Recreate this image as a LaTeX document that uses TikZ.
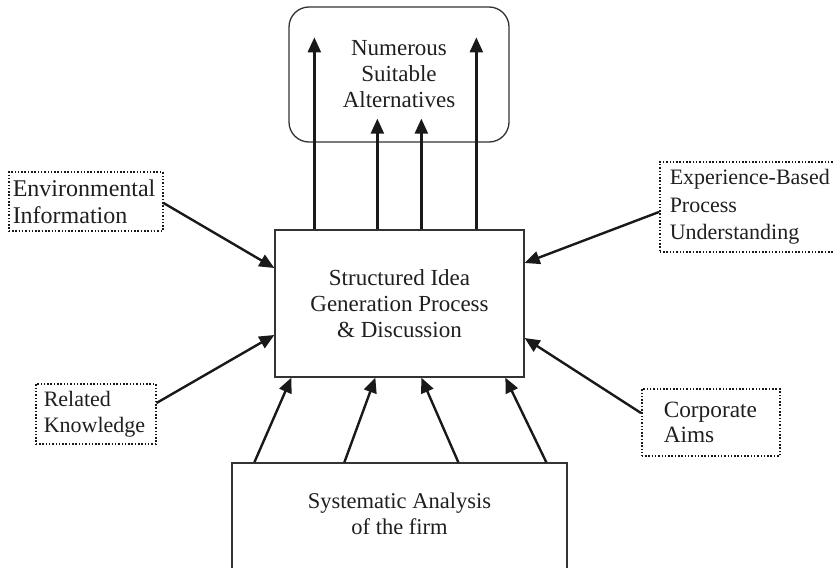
\documentclass[tikz,border=0pt]{standalone}
\usepackage{fontspec}
\setmainfont{Liberation Serif}
\usetikzlibrary{arrows.meta}
\begin{document}
\begin{tikzpicture}[x=1pt,y=-1pt,
  every node/.style={font=\fontsize{23}{26}\selectfont, text=black!88, inner sep=0pt},
  mainbox/.style={draw=black!80, line width=1.3pt},
  inputbox/.style={draw=black!90, line width=1.5pt, dash pattern=on 1.5pt off 1.8pt,
    align=left, anchor=west},
  flow/.style={draw=black!90, line width=2.4pt, -{Triangle[length=15pt,width=13pt]}}
]
\useasboundingbox (0,0) rectangle (834,567);
\clip (0,0) rectangle (834,567);

% central process and its result
\node[mainbox, rounded corners=20pt, minimum width=220pt, minimum height=135pt, align=center]
  (alt) at (399,74.5) {Numerous\\Suitable\\Alternatives};
\node[mainbox, minimum width=249pt, minimum height=147pt, align=center]
  (idea) at (399.5,303.5) {Structured Idea\\Generation Process\\\& Discussion};

% analysis box, open at the lower edge of the page
\node[mainbox, minimum width=335pt, minimum height=157pt] (sys) at (399.5,541.5) {};
\node[align=center, font=\fontsize{22.5}{25.5}\selectfont]
  (syslabel) at (399.5,514) {Systematic Analysis\\of the firm};

% dotted input boxes
\node[inputbox, text width=146pt, inner xsep=4pt, minimum height=59pt,
  font=\fontsize{24}{27}\selectfont]
  (env) at (8,201.5) {Environmental\\Information};
\node[inputbox, text width=170pt, inner xsep=10pt, minimum height=90pt,
  font=\fontsize{22}{27.5}\selectfont]
  (exp) at (659,207) {Experience-Based\\Process\\Understanding};
\node[inputbox, text width=104pt, inner xsep=8pt, minimum height=60pt,
  font=\fontsize{22}{25.5}\selectfont]
  (rel) at (35,414) {Related\\Knowledge};
\node[inputbox, text width=94pt, inner xsep=22pt, minimum height=67pt,
  font=\fontsize{23.3}{25}\selectfont]
  (corp) at (641,422.5) {Corporate\\Aims};

% outputs of the idea generation
\draw[flow] ([xshift=40pt]idea.north west) -- ([xshift=26pt,yshift=-31pt]alt.north west);
\draw[flow] ([xshift=103pt]idea.north west) -- ([xshift=89pt,yshift=24pt]alt.south west);
\draw[flow] ([xshift=147pt]idea.north west) -- ([xshift=133pt,yshift=24pt]alt.south west);
\draw[flow] ([xshift=202pt]idea.north west) -- ([xshift=188pt,yshift=-31pt]alt.north west);

% side inputs
\draw[flow] ([yshift=-1.5pt]env.east) -- ([yshift=35.5pt]idea.west);
\draw[flow] ([yshift=-5pt]exp.west) -- ([yshift=40.5pt]idea.east);
\draw[flow] ([yshift=11pt]rel.east) -- ([yshift=-31.5pt]idea.west);
\draw[flow] ([yshift=9.5pt]corp.west) -- ([yshift=-34.5pt]idea.east);

% inputs from the analysis
\draw[flow] ([xshift=23pt]sys.north west) -- ([xshift=17pt]idea.south west);
\draw[flow] ([xshift=113pt]sys.north west) -- ([xshift=101pt]idea.south west);
\draw[flow] ([xshift=227pt]sys.north west) -- ([xshift=147pt]idea.south west);
\draw[flow] ([xshift=315pt]sys.north west) -- ([xshift=231pt]idea.south west);
\end{tikzpicture}
\end{document}
